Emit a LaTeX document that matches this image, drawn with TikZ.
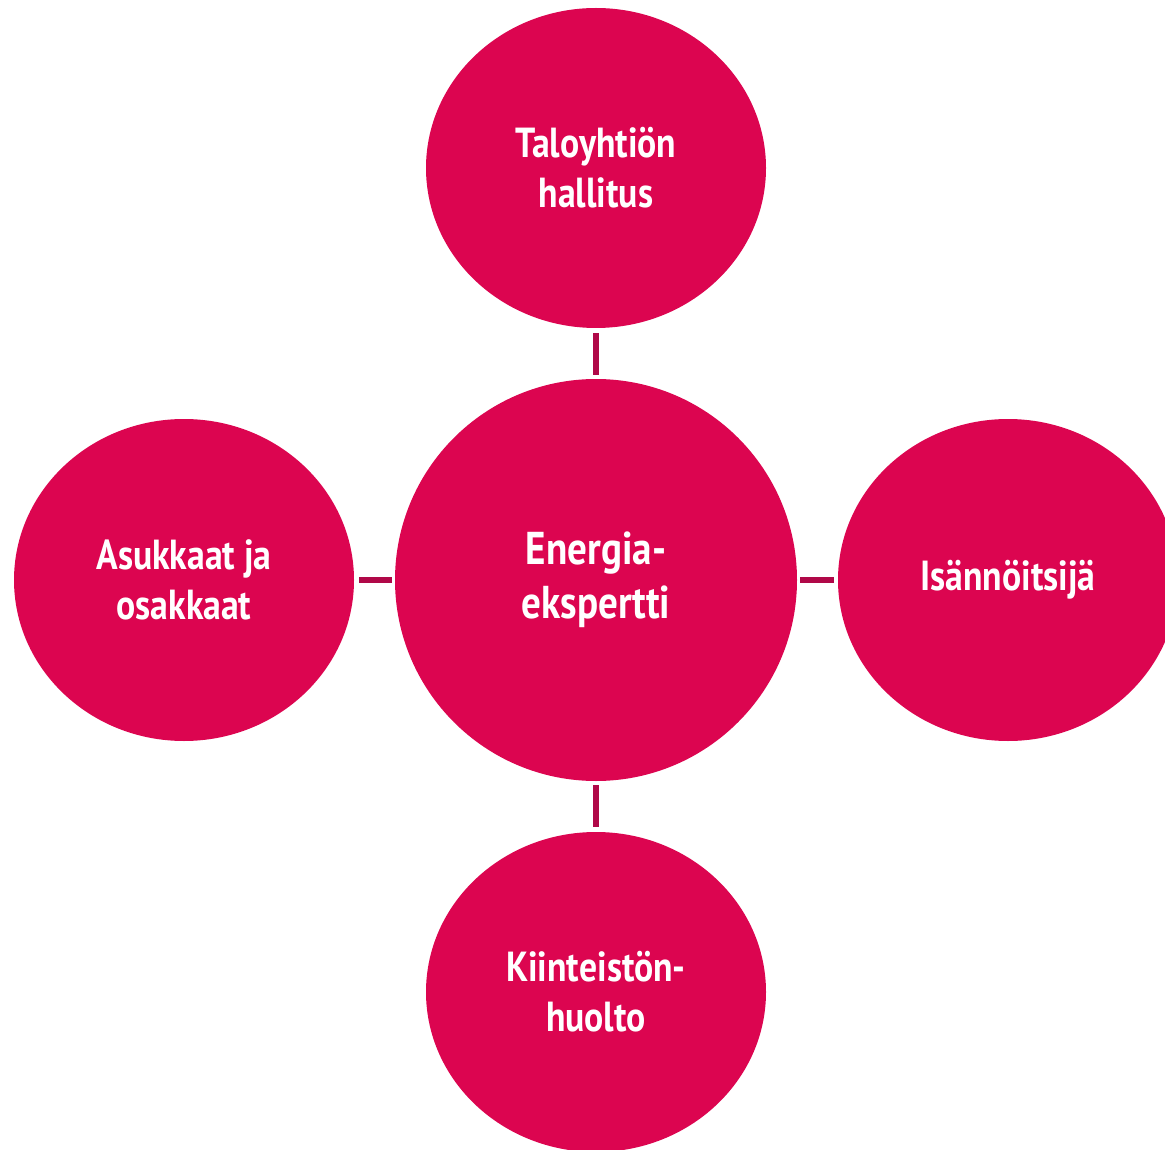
\documentclass[tikz,border=0pt]{standalone}
\usepackage{fontspec}
\setmainfont{PT Sans}[FakeStretch=0.85]
\begin{document}
\begin{tikzpicture}[x=1pt,y=-1pt,
  bubble/.style={ellipse, fill=circ, draw=none, inner sep=0pt, font=\bfseries\fontsize{42}{50}\selectfont, text=white, align=center},
  link/.style={draw=linkc, line width=6pt}]
\usetikzlibrary{shapes.geometric}
\definecolor{circ}{HTML}{DC0550}
\definecolor{linkc}{HTML}{B00848}
\useasboundingbox (0,0) rectangle (1165,1150);
\clip (0,0) rectangle (1165,1150);
\node[bubble, minimum width=402pt, minimum height=402pt, font=\bfseries\fontsize{46}{54}\selectfont] (c) at (596,580) {Energia-\\ekspertti};
\node[bubble, minimum width=340pt, minimum height=320pt] (t) at (596,168) {Taloyhtiön\\hallitus};
\node[bubble, minimum width=340pt, minimum height=322pt] (l) at (184,580) {Asukkaat ja\\osakkaat};
\node[bubble, minimum width=340pt, minimum height=322pt] (r) at (1008,580) {Isännöitsijä};
\node[bubble, minimum width=340pt, minimum height=320pt] (b) at (596,992) {Kiinteistön-\\huolto};
\draw[link] ([yshift=-5pt]t.south) -- ([yshift=4pt]c.north);
\draw[link] ([yshift=5pt]b.north) -- ([yshift=-4pt]c.south);
\draw[link] ([xshift=5pt]l.east) -- ([xshift=-3pt]c.west);
\draw[link] ([xshift=-4pt]r.west) -- ([xshift=3pt]c.east);
\end{tikzpicture}
\end{document}
